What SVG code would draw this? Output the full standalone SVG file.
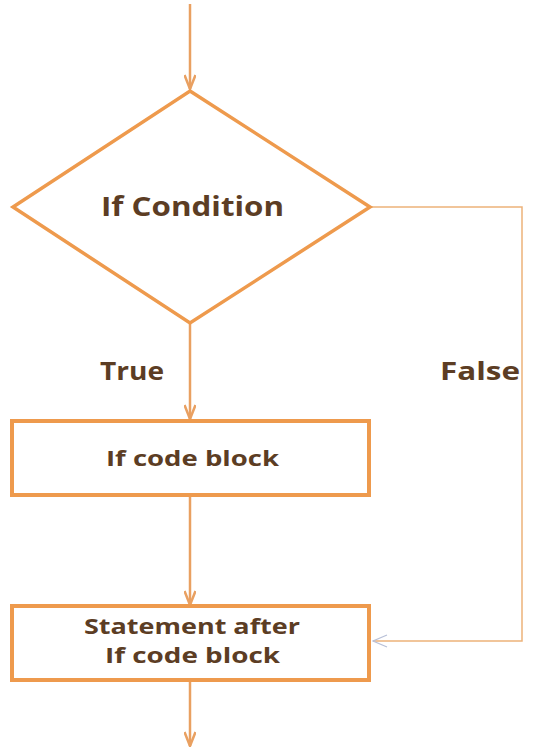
<svg xmlns="http://www.w3.org/2000/svg" width="533" height="750" viewBox="0 0 533 750">
<style>
.shape{fill:#ffffff;stroke:#EE9A4D;}
.conn{fill:none;stroke:#E9A061;stroke-width:2.5;}
.thin{fill:none;stroke:#EDB27A;stroke-width:1.5;}
.t{font-family:"Open Sans","Liberation Sans",sans-serif;font-weight:bold;fill:#5C3D24;text-anchor:middle;}
</style>
<defs>
<marker id="ah" markerWidth="16" markerHeight="12" viewBox="0 0 16 12" refX="15" refY="6" orient="auto" markerUnits="userSpaceOnUse">
<polyline points="1,0.5 15,6 1,11.5" fill="none" stroke="#E9A061" stroke-width="2.5"/>
</marker>
<marker id="ahthin" markerWidth="16" markerHeight="14" viewBox="0 0 16 14" refX="15" refY="7" orient="auto" markerUnits="userSpaceOnUse">
<polyline points="1,1 15,7 1,13" fill="none" stroke="#B8C0D8" stroke-width="1.3"/>
</marker>
</defs>
<rect width="533" height="750" fill="#ffffff"/>
<g id="connectors">
<line class="conn" x1="190" y1="4" x2="190" y2="89" marker-end="url(#ah)"/>
<line class="conn" x1="190" y1="324" x2="190" y2="419" marker-end="url(#ah)"/>
<line class="conn" x1="190" y1="496" x2="190" y2="605" marker-end="url(#ah)"/>
<line class="conn" x1="190" y1="681" x2="190" y2="746" marker-end="url(#ah)"/>
<polyline class="thin" points="370,207 522,207 522,641 373,641" marker-end="url(#ahthin)"/>
</g>
<g id="condition">
<polygon class="shape" stroke-width="3.5" points="190,91 370,207 190,323 13,207"/>
<text class="t" x="192.5" y="216" font-size="26" textLength="183" lengthAdjust="spacingAndGlyphs">If Condition</text>
</g>
<g id="label-true"><text class="t" x="132" y="380" font-size="25" textLength="64" lengthAdjust="spacingAndGlyphs">True</text></g>
<g id="label-false"><text class="t" x="480" y="380" font-size="25" textLength="80" lengthAdjust="spacingAndGlyphs">False</text></g>
<g id="if-block">
<rect class="shape" stroke-width="4" x="12" y="421" width="357" height="74"/>
<text class="t" x="192.5" y="466" font-size="22" textLength="173" lengthAdjust="spacingAndGlyphs">If code block</text>
</g>
<g id="after-block">
<rect class="shape" stroke-width="4" x="12" y="606" width="357" height="74"/>
<text class="t" x="192" y="634" font-size="22" textLength="216" lengthAdjust="spacingAndGlyphs">Statement after</text>
<text class="t" x="192.5" y="663" font-size="22" textLength="175" lengthAdjust="spacingAndGlyphs">If code block</text>
</g>
</svg>
